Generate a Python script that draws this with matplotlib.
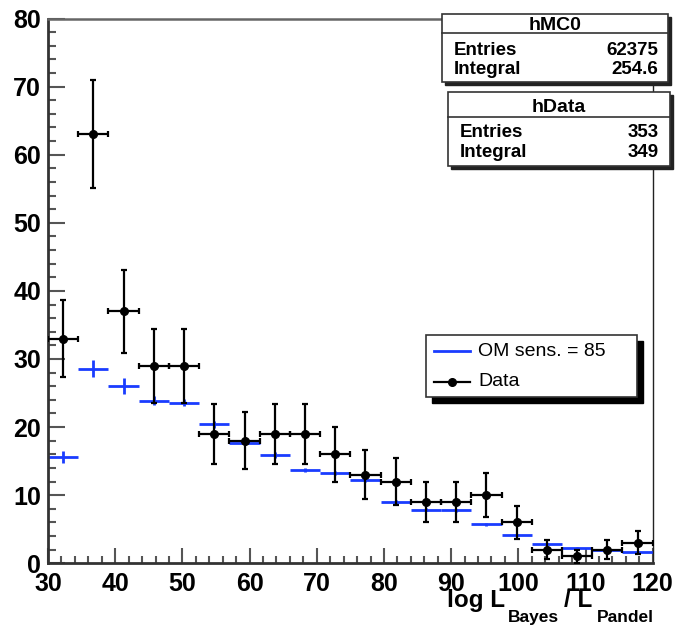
import numpy as np
import matplotlib
matplotlib.use("Agg")
import matplotlib.pyplot as plt
from matplotlib.patches import Rectangle
from matplotlib.lines import Line2D

W, H = 675, 625

# histogram binning: 20 bins from 30 to 120
bin_edges = [30, 34.5, 39, 43.5, 48, 52.5, 57, 61.5, 66, 70.5, 75,
             79.5, 84, 88.5, 93, 97.5, 102, 106.5, 111, 115.5, 120]

# MC (OM sens. = 85)
mc_values = [15.6, 28.6, 26.0, 23.9, 23.6, 20.4, 17.7, 15.9, 13.7, 13.2,
             12.3, 9.0, 7.9, 7.8, 5.7, 4.1, 2.9, 2.3, 2.0, 1.6]
mc_errors = [0.9, 1.2, 1.15, 0.6, 0.5, 0.5, 0.4, 0.4, 0.35, 0.3,
             0.3, 0.25, 0.2, 0.2, 0.2, 0.15, 0.12, 0.1, 0.1, 0.1]

# Data
data_values = [33, 63, 37, 29, 29, 19, 18, 19, 19, 16,
               13, 12, 9, 9, 10, 6, 2, 1, 2, 3]
data_errors = [5.7, 7.9, 6.1, 5.4, 5.4, 4.4, 4.2, 4.4, 4.4, 4.0,
               3.6, 3.5, 3.0, 3.0, 3.2, 2.4, 1.4, 1.0, 1.4, 1.7]

stats_mc = [("Entries", "62375"), ("Integral", "254.6")]
stats_data = [("Entries", "353"), ("Integral", "349")]

edges = np.array(bin_edges)
centers = 0.5 * (edges[:-1] + edges[1:])
half_w = 0.5 * np.diff(edges)

plt.rcParams["font.family"] = ["Liberation Sans", "DejaVu Sans"]

fig = plt.figure(figsize=(W / 100, H / 100), dpi=100)
ax = fig.add_axes([48 / W, 1 - 563.3 / H, (652.7 - 48) / W, (563.3 - 18.5) / H])

blue = "#1a3cff"
ax.errorbar(centers, mc_values, xerr=half_w, yerr=mc_errors, fmt="none",
            ecolor=blue, elinewidth=2.0, capsize=0, zorder=2)
ax.errorbar(centers, data_values, xerr=half_w, yerr=data_errors, fmt="o",
            color="black", ms=5.5, elinewidth=1.6, capsize=2.2, capthick=1.6,
            zorder=3)

ax.set_xlim(30, 120)
ax.set_ylim(0, 80)
ax.set_xticks(np.arange(30, 121, 10))
ax.set_yticks(np.arange(0, 81, 10))
ax.set_xticks(np.arange(30, 121, 2), minor=True)
ax.set_yticks(np.arange(0, 81, 2), minor=True)
ax.tick_params(which="both", direction="in", color="#555555", width=1.5,
               top=False, right=False)
ax.tick_params(which="major", axis="y", length=12.5, pad=5)
ax.tick_params(which="minor", axis="y", length=6)
ax.tick_params(which="major", axis="x", length=11, pad=6)
ax.tick_params(which="minor", axis="x", length=5)
for lab in ax.get_xticklabels() + ax.get_yticklabels():
    lab.set_fontsize(18)
    lab.set_fontweight("bold")

ax.spines["left"].set_linewidth(2.0)
ax.spines["left"].set_color("#333333")
ax.spines["bottom"].set_linewidth(2.0)
ax.spines["bottom"].set_color("#333333")
ax.spines["top"].set_linewidth(1.8)
ax.spines["top"].set_color("#666666")
ax.spines["right"].set_linewidth(1.0)
ax.spines["right"].set_color("#222222")


def fx(x):
    return x / W


def fy(y):
    return 1 - y / H


# axis title, pieced together like ROOT's subscripts
fig.text(fx(447), fy(607), "log L", fontsize=17.5, fontweight="bold",
         ha="left", va="baseline")
fig.text(fx(508), fy(622), "Bayes", fontsize=12.5, fontweight="bold",
         ha="left", va="baseline")
fig.text(fx(564), fy(607), "/ L", fontsize=17.5, fontweight="bold",
         ha="left", va="baseline")
fig.text(fx(597), fy(622), "Pandel", fontsize=12.5, fontweight="bold",
         ha="left", va="baseline")


def stat_box(x0, y0, x1, y1, sep, title, title_base, rows, row_bases,
             tx, vx):
    fig.patches.append(Rectangle((fx(x0 + 2.5), fy(y1 + 2.5)),
                                 (x1 - x0) / W, (y1 - y0) / H,
                                 transform=fig.transFigure, color="#222222",
                                 zorder=5))
    fig.patches.append(Rectangle((fx(x0), fy(y1)), (x1 - x0) / W,
                                 (y1 - y0) / H, transform=fig.transFigure,
                                 facecolor="white", edgecolor="#333333",
                                 lw=1.2, zorder=6))
    fig.lines.append(Line2D([fx(x0), fx(x1)], [fy(sep), fy(sep)],
                            transform=fig.transFigure, color="#333333",
                            lw=1.2, zorder=7))
    fig.text(fx((x0 + x1) / 2), fy(title_base), title, fontsize=14,
             fontweight="bold", ha="center", va="baseline", zorder=8)
    for (name, val), yb in zip(rows, row_bases):
        fig.text(fx(tx), fy(yb), name, fontsize=13.5, fontweight="bold",
                 ha="left", va="baseline", zorder=8)
        fig.text(fx(vx), fy(yb), val, fontsize=13.5, fontweight="bold",
                 ha="right", va="baseline", zorder=8)


stat_box(442, 14, 668, 82, 33, "hMC0", 30, stats_mc, [55, 74], 454, 658)
stat_box(448, 92, 670, 166, 117, "hData", 112, stats_data, [137, 157],
         460, 659)

# legend with ROOT-style drop shadow
lx0, ly0, lx1, ly1 = 426, 335, 637, 397
fig.patches.append(Rectangle((fx(lx0 + 6), fy(ly1 + 6)), (lx1 - lx0) / W,
                             (ly1 - ly0) / H, transform=fig.transFigure,
                             color="black", zorder=5))
fig.patches.append(Rectangle((fx(lx0), fy(ly1)), (lx1 - lx0) / W,
                             (ly1 - ly0) / H, transform=fig.transFigure,
                             facecolor="white", edgecolor="#333333", lw=1.2,
                             zorder=6))
fig.lines.append(Line2D([fx(434), fx(470)], [fy(351), fy(351)],
                        transform=fig.transFigure, color=blue, lw=2.0,
                        zorder=7))
fig.lines.append(Line2D([fx(434), fx(470)], [fy(382), fy(382)],
                        transform=fig.transFigure, color="black", lw=1.6,
                        zorder=7))
fig.lines.append(Line2D([fx(452)], [fy(382)], transform=fig.transFigure,
                        color="black", marker="o", ms=5.5, zorder=7))
fig.text(fx(478), fy(351), "OM sens. = 85", fontsize=14, ha="left",
         va="center", zorder=8)
fig.text(fx(478), fy(382), "Data", fontsize=14, ha="left", va="center",
         zorder=8)

fig.savefig("out.png", dpi=100)
